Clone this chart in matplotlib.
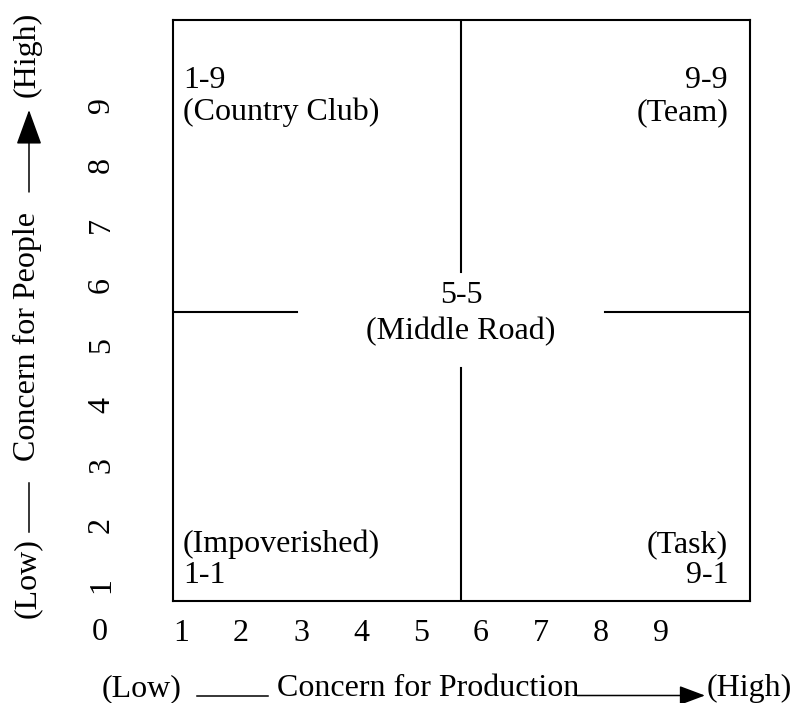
"""Managerial grid (Blake & Mouton) diagram."""
import matplotlib

matplotlib.use("Agg")
import matplotlib.pyplot as plt

plt.rcParams["font.family"] = ["Liberation Serif", "DejaVu Serif"]

# grid scale and labels
ticks = list(range(1, 10))
tick_labels = [str(t) for t in ticks]
origin_label = "0"

# leadership styles: score and name
scores = ["1-9", "9-9", "5-5", "1-1", "9-1"]
names = ["(Country Club)", "(Team)", "(Middle Road)", "(Impoverished)", "(Task)"]

x_axis = ("(Low)", "Concern for Production", "(High)")
y_axis = ("(Low)", "Concern for People", "(High)")

FS = 23
LW = 1.5

W, H = 794, 703
fig = plt.figure(figsize=(W / 100, H / 100), dpi=100)

# box in pixels: left 173, right 750, top 20, bottom 601
ax = fig.add_axes([173 / W, (H - 601) / H, (750 - 173) / W, (601 - 20) / H])
x0, x1 = (173 - 121) / 60, (750 - 121) / 60
y0, y1 = (645 - 601) / 60, (645 - 20) / 60
ax.set_xlim(x0, x1)
ax.set_ylim(y0, y1)
for s in ax.spines.values():
    s.set_linewidth(LW)

ax.set_xticks(ticks)
ax.set_xticklabels(tick_labels, fontsize=FS)
ax.set_yticks(ticks)
ax.set_yticklabels(tick_labels, fontsize=FS, rotation=90, va="center")
ax.tick_params(axis="x", length=0, pad=13)
ax.tick_params(axis="y", length=0, pad=41)
ax.text(-0.35, (645 - 632) / 60, origin_label, fontsize=FS, ha="center",
        va="center", clip_on=False)

# dividing lines with a gap around the middle label
xm, ym = (461 - 121) / 60, (645 - 312) / 60
ax.plot([xm, xm], [(645 - 272) / 60, y1], color="black", lw=LW)
ax.plot([xm, xm], [y0, (645 - 368) / 60], color="black", lw=LW)
ax.plot([x0, (297 - 121) / 60], [ym, ym], color="black", lw=LW)
ax.plot([(605 - 121) / 60, x1], [ym, ym], color="black", lw=LW)

# label placement: (x, ha, baseline of first line, baseline of second line)
xl, xr = (183 - 121) / 60, (728 - 121) / 60
layout = [
    (xl, "left", 88, 120),
    (xr, "right", 88, 120),
    (xm, "center", 303, 339),
]
for (x, ha, b1, b2), sc, nm in zip(layout, scores[:3], names[:3]):
    ax.text(x, (645 - b1) / 60, sc, fontsize=FS, ha=ha, va="baseline")
    ax.text(x, (645 - b2) / 60, nm, fontsize=FS, ha=ha, va="baseline")
for x, ha, sc, nm in [(xl, "left", scores[3], names[3]),
                      (xr, "right", scores[4], names[4])]:
    ax.text(x, (645 - 552) / 60, nm, fontsize=FS, ha=ha, va="baseline")
    ax.text(x, (645 - 583) / 60, sc, fontsize=FS, ha=ha, va="baseline")

# x axis title with arrow (figure pixels, origin bottom-left)
by = H - 696
fig.text(102 / W, by / H, x_axis[0], fontsize=FS, ha="left", va="baseline")
fig.add_artist(plt.Line2D([197 / W, 268 / W], [(H - 695.5) / H] * 2,
                          color="black", lw=1.1))
fig.text(277 / W, by / H, x_axis[1], fontsize=FS, ha="left", va="baseline")
fig.text(707 / W, by / H, x_axis[2], fontsize=FS, ha="left", va="baseline")
ax.annotate("", xy=(705, H - 695.5), xytext=(577, H - 695.5),
            xycoords="figure pixels", textcoords="figure pixels",
            arrowprops=dict(arrowstyle="-|>,head_length=1.6,head_width=0.6",
                            color="black", lw=1.1, shrinkA=0, shrinkB=0))

# y axis title with arrow
fig.text(27 / W, (H - 618) / H, y_axis[0], fontsize=FS, rotation=90,
         ha="center", va="bottom")
fig.add_artist(plt.Line2D([29 / W] * 2, [(H - 532) / H, (H - 483) / H],
                          color="black", lw=1.1))
fig.text(27 / W, (H - 461) / H, y_axis[1], fontsize=FS, rotation=90,
         ha="center", va="bottom")
fig.text(27 / W, (H - 97) / H, y_axis[2], fontsize=FS, rotation=90,
         ha="center", va="bottom")
ax.annotate("", xy=(29, H - 110), xytext=(29, H - 192),
            xycoords="figure pixels", textcoords="figure pixels",
            arrowprops=dict(arrowstyle="-|>,head_length=2.2,head_width=0.8",
                            color="black", lw=1.1, shrinkA=0, shrinkB=0))

fig.savefig("out.png", dpi=100)
